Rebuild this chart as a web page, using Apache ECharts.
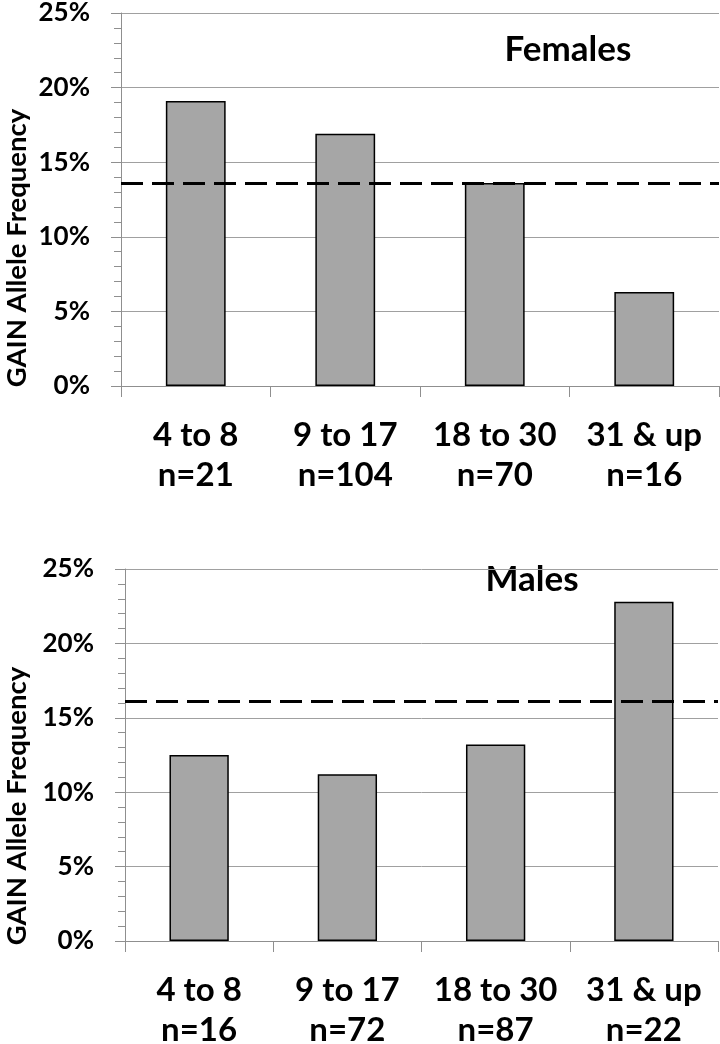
<!DOCTYPE html>
<html><head><meta charset="utf-8">
<script src="https://cdn.jsdelivr.net/npm/echarts@6/dist/echarts.min.js"></script>
<style>html,body{margin:0;padding:0;background:#fff}#c{width:720px;height:1044px}</style>
</head><body><div id="c"></div>
<script>
const categories = ['4 to 8', '9 to 17', '18 to 30', '31 & up'];
const femaleN = [21, 104, 70, 16];
const maleN = [16, 72, 87, 22];
const femaleFreq = [0.191, 0.169, 0.136, 0.063];
const maleFreq = [0.125, 0.112, 0.132, 0.228];
const femaleOverall = [0.136];
const maleOverall = [0.161];
const panelTitles = ['Females', 'Males'];
const yAxisTitle = 'GAIN Allele Frequency';

const FONT = 'Lato';
const GRAY = '#8f8f8f';
const chart = echarts.init(document.getElementById('c'), null, {renderer: 'canvas'});

function xAx(gi, ns) {
  return {
    type: 'category', gridIndex: gi, data: categories,
    axisLine: {show: true, lineStyle: {color: GRAY, width: 1}},
    axisTick: {show: true, interval: 0, length: 11, lineStyle: {color: GRAY}},
    axisLabel: {
      interval: 0, hideOverlap: false,
      margin: 29, fontFamily: FONT, fontWeight: 'bold', fontSize: 33, color: '#000', lineHeight: 40,
      formatter: (v, i) => v + '\nn=' + ns[i]
    }
  };
}
function yAx(gi) {
  return {
    type: 'value', gridIndex: gi, min: 0, max: 0.25, interval: 0.05,
    axisLine: {show: true, lineStyle: {color: GRAY, width: 1}},
    axisTick: {show: true, length: 10, lineStyle: {color: GRAY}},
    minorTick: {show: true, splitNumber: 5, length: 7, lineStyle: {color: GRAY}},
    splitLine: {show: true, lineStyle: {color: '#a0a0a0', width: 1}},
    axisLabel: {
      margin: 31, fontFamily: FONT, fontWeight: 'bold', fontSize: 26, color: '#000',
      formatter: v => Math.round(v * 100) + '%'
    }
  };
}
function bars(gi, data, overall) {
  return {
    type: 'bar', xAxisIndex: gi, yAxisIndex: gi, data: data, barWidth: '40%',
    itemStyle: {color: '#a6a6a6', borderColor: '#000', borderWidth: 1.5},
    markLine: {
      silent: true, symbol: 'none', precision: 4, label: {show: false},
      lineStyle: {color: '#000', width: 3, type: [22, 9]},
      data: [{yAxis: overall[0]}]
    }
  };
}
function txt(x, y, s, size, rot) {
  return {type: 'text', x: x, y: y, rotation: rot || 0,
    style: {text: s, fontFamily: FONT, fontWeight: 'bold', fontSize: size, fill: '#000', align: 'center', verticalAlign: 'middle'}};
}

chart.setOption({
  animation: false,
  grid: [
    {left: 121, right: 1, top: 13, height: 373, outerBoundsMode: 'none', containLabel: false},
    {left: 125, right: 2, top: 569, height: 372, outerBoundsMode: 'none', containLabel: false}
  ],
  xAxis: [xAx(0, femaleN), xAx(1, maleN)],
  yAxis: [yAx(0), yAx(1)],
  series: [bars(0, femaleFreq, femaleOverall), bars(1, maleFreq, maleOverall)],
  graphic: [
    txt(568, 50, panelTitles[0], 35),
    txt(532, 580, panelTitles[1], 35),
    txt(17, 248, yAxisTitle, 27.5, Math.PI / 2),
    txt(17, 806, yAxisTitle, 27.5, Math.PI / 2)
  ]
});
</script></body></html>
